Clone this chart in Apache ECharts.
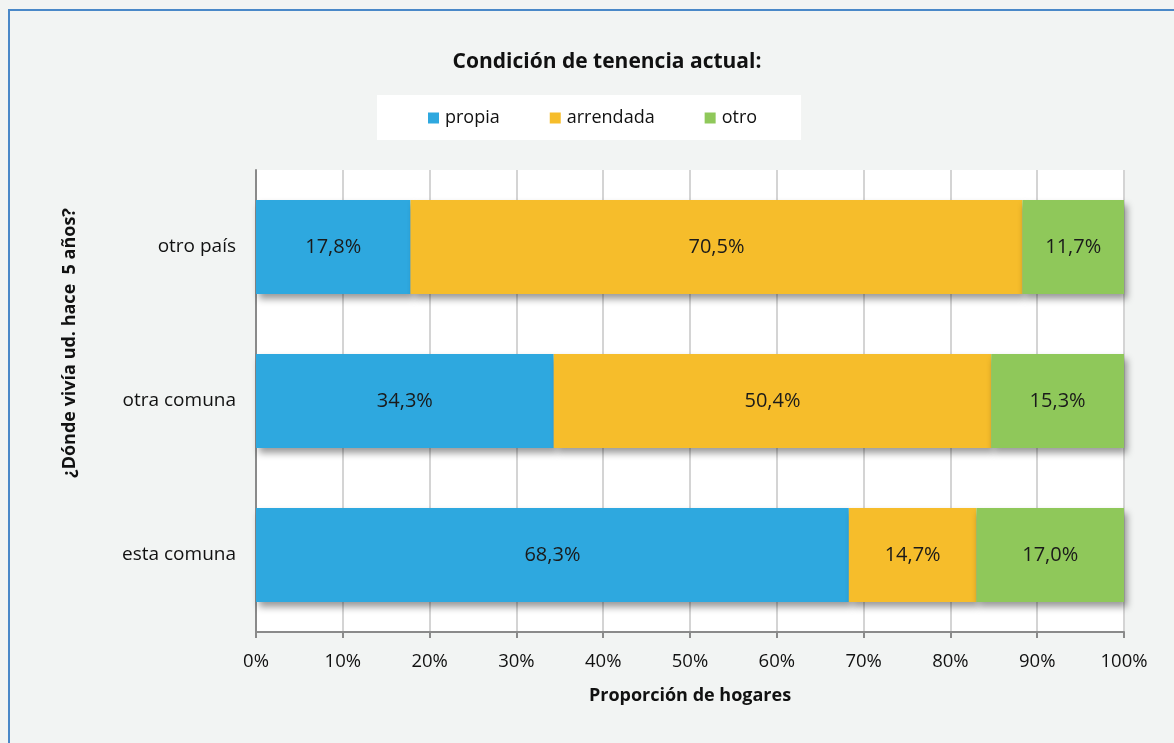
<!DOCTYPE html>
<html>
<head>
<meta charset="utf-8">
<script src="https://cdn.jsdelivr.net/npm/echarts@6/dist/echarts.min.js"></script>
<style>
  html, body { margin: 0; padding: 0; background: #f2f4f3; }
  #chart { width: 1174px; height: 743px; }
</style>
</head>
<body>
<div id="chart"></div>
<script>
// Tenure condition by place of residence five years ago
const categories = ['esta comuna', 'otra comuna', 'otro país'];
const propia    = [68.3, 34.3, 17.8];
const arrendada = [14.7, 50.4, 70.5];
const otro      = [17.0, 15.3, 11.7];
const xTicks = [0, 10, 20, 30, 40, 50, 60, 70, 80, 90, 100];

const FONT = 'Open Sans';
const colors = { propia: '#2ea8df', arrendada: '#f6bd2b', otro: '#8fc85a' };

const chart = echarts.init(document.getElementById('chart'), null, { renderer: 'canvas' });

function barSeries(name, data, color) {
  return {
    name: name,
    type: 'bar',
    stack: 'total',
    barWidth: '61%',
    data: data,
    itemStyle: {
      color: color,
      shadowColor: 'rgba(0,0,0,0.4)',
      shadowBlur: 7,
      shadowOffsetX: 3,
      shadowOffsetY: 5
    },
    label: {
      show: true,
      position: 'inside',
      color: '#1a1a1a',
      fontFamily: FONT,
      fontSize: 20,
      formatter: p => p.value.toFixed(1).replace('.', ',') + '%'
    }
  };
}

chart.setOption({
  backgroundColor: '#f2f4f3',
  animation: false,
  title: {
    text: 'Condición de tenencia actual:',
    left: 602,
    textAlign: 'center',
    top: 47,
    textStyle: { fontFamily: FONT, fontSize: 21, fontWeight: 'bold', color: '#111' }
  },
  legend: {
    left: 377,
    top: 95,
    backgroundColor: '#ffffff',
    padding: [14, 44, 13, 51],
    itemWidth: 11,
    itemHeight: 11,
    itemGap: 50,
    icon: 'rect',
    textStyle: { fontFamily: FONT, fontSize: 18, color: '#111', padding: [0, 0, 0, 1] },
    data: ['propia', 'arrendada', 'otro']
  },
  grid: { left: 256, right: 50, top: 170, bottom: 111, backgroundColor: '#ffffff', show: true, borderWidth: 0 },
  xAxis: {
    type: 'value',
    min: 0,
    max: 100,
    interval: 10,
    name: 'Proporción de hogares',
    nameLocation: 'middle',
    nameGap: 55,
    nameTextStyle: { fontFamily: FONT, fontSize: 18, fontWeight: 'bold', color: '#111' },
    axisLine: { show: true, lineStyle: { color: '#8a8a8a', width: 2 } },
    axisTick: { show: true, length: 6, lineStyle: { color: '#8a8a8a', width: 2 } },
    axisLabel: {
      fontFamily: FONT, fontSize: 18.5, color: '#111', margin: 20,
      formatter: v => (xTicks.indexOf(v) >= 0 ? v + '%' : '')
    },
    splitLine: { show: true, lineStyle: { color: '#d4d4d4', width: 2 } }
  },
  yAxis: {
    type: 'category',
    data: categories,
    axisLine: { show: true, lineStyle: { color: '#8a8a8a', width: 2 } },
    axisTick: { show: false },
    axisLabel: { fontFamily: FONT, fontSize: 19, color: '#111', margin: 20 }
  },
  graphic: [
    {
      type: 'text',
      x: 70, y: 343,
      rotation: Math.PI / 2,
      style: {
        text: '¿Dónde vivía ud. hace  5 años?',
        fontFamily: FONT, fontSize: 18, fontWeight: 'bold', fill: '#111',
        align: 'center', verticalAlign: 'middle'
      }
    },
    {
      type: 'polyline',
      shape: { points: [[9, 743], [9, 10], [1174, 10]] },
      style: { stroke: '#4a88c8', lineWidth: 2, fill: null },
      z: 100
    }
  ],
  series: [
    barSeries('propia', propia, colors.propia),
    barSeries('arrendada', arrendada, colors.arrendada),
    barSeries('otro', otro, colors.otro)
  ]
});
</script>
</body>
</html>
